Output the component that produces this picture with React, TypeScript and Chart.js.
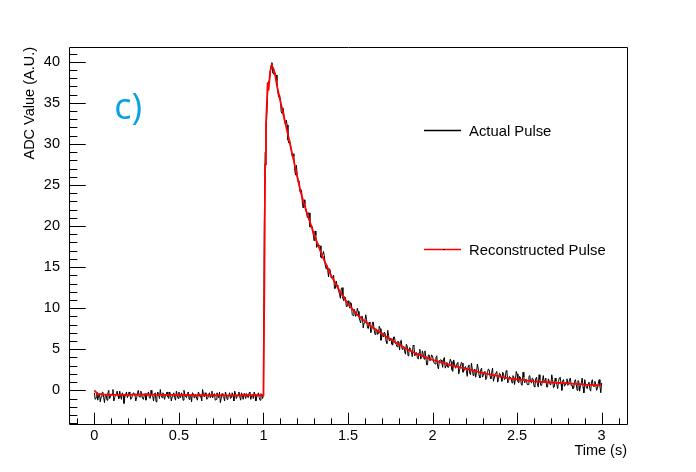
import { useEffect, useRef } from "react";
import { Chart, registerables } from "chart.js";

Chart.register(...registerables);

// ---- data ----
// Actual pulse is sampled every 5 ms; samples on the 10 ms grid (0.00, 0.01, ...)
// and the samples in between (0.005, 0.015, ...) are kept in two lists.
const sampleStep = 0.01;
const actualOnGrid = [
  -0.3, -0.9, -1.2, -0.4, -0.8, -0.2, -1.5, -0.6, -0.3, -1.0,
  -0.5, 0.1, -0.9, -0.4, -0.7, -0.1, -1.1, -0.5, -0.8, -0.2,
  -0.7, -0.4, -1.0, -0.3, -0.6, -0.9, 0.0, -0.8, -0.5, -1.1,
  -0.4, -0.7, -0.2, -1.0, -0.6, -1.3, -0.3, -0.8, -0.5, 0.1,
  -0.9, -0.5, -0.7, -0.2, -1.0, -0.4, -0.8, -0.3, -1.2, -0.6,
  -0.2, -0.9, -0.5, 0.0, -0.8, -0.4, -1.1, -0.6, -0.3, -0.9,
  -0.5, -1.2, -0.4, -0.7, 0.1, -0.8, -0.5, -1.0, -0.3, -0.7,
  -0.9, -0.4, -1.1, -0.6, -0.2, -1.0, -0.7, -1.3, -0.5, -0.8,
  -0.3, -0.9, -0.6, -0.1, -1.0, -0.5, -0.8, -0.3, -1.1, -0.6,
  -0.4, -0.9, -0.2, -0.7, -1.0, -0.5, -0.8, -0.3, -1.2, -0.6,
  -0.5,
  29.0, 33.7, 37.6, 38.6, 39.9, 38.5, 38.5, 37.7, 35.7, 35.4,
  33.7, 33.7, 32.4, 32.3, 30.1, 29.9, 28.5, 28.5, 26.2, 26.1,
  25.5, 24.0, 22.8, 23.2, 22.1, 21.0, 21.6, 19.9, 19.7, 18.2,
  18.9, 17.7, 17.6, 16.2, 16.5, 16.4, 14.8, 14.6, 14.8, 13.7,
  13.7, 12.4, 13.3, 12.6, 11.7, 12.4, 11.2, 11.4, 10.2, 10.9,
  10.0, 10.6, 9.1, 9.7, 9.2, 9.6, 8.5, 9.0, 7.6, 8.5,
  8.6, 7.5, 8.1, 7.4, 8.3, 6.8, 7.4, 6.9, 7.5, 6.5,
  6.5, 6.9, 5.7, 6.7, 6.3, 5.6, 6.5, 5.7, 5.3, 5.9,
  6.0, 5.0, 5.3, 4.4, 5.4, 4.7, 5.0, 4.1, 5.4, 4.4,
  4.0, 4.6, 3.8, 4.8, 3.8, 4.1, 3.1, 4.3, 3.6, 4.2,
  3.3, 4.0, 2.9, 3.6, 3.7, 2.8, 4.0, 3.0, 2.8, 3.3,
  3.5, 2.3, 3.2, 2.8, 3.4, 2.5, 3.4, 2.2, 2.8, 2.4,
  2.9, 2.1, 3.3, 1.8, 2.6, 2.2, 2.7, 1.5, 2.7, 1.8,
  2.3, 1.5, 2.6, 1.7, 2.2, 1.1, 1.9, 2.3, 1.3, 2.0,
  1.1, 2.0, 1.4, 2.3, 1.2, 1.6, 0.9, 1.7, 1.3, 2.0,
  0.9, 1.5, 0.6, 1.6, 1.3, 0.7, 1.7, 1.0, 1.5, 0.5,
  1.4, 0.8, 1.9, 0.6, 1.2, 0.9, 1.5, 0.4, 1.1, 0.8,
  1.3, 0.4, 1.1, 0.2, 1.5, 0.8, 1.2, 0.5, 1.0, 0.6,
  1.3, 0.6, 0.2, 1.1, 0.7, 1.2, -0.1, 0.9, 0.4, 1.3,
  0.3, 0.8, 0.2, 1.0, 0.5, 1.1, 0.0, 0.8, 0.5, 0.9,
];
const actualBetween = [
  -1.1, -0.2, -0.7, -1.4, -0.3, -0.9, -0.5, -1.2, 0.0, -0.8,
  -0.4, -1.3, -0.6, -0.1, -1.0, -0.7, -0.3, -1.6, -0.5, -0.9,
  -0.2, -1.1, -0.6, -0.4, -1.3, -0.3, -0.8, -0.1, -1.0, -0.6,
  -1.2, -0.4, -0.9, 0.0, -0.7, -0.5, -1.4, -0.2, -1.0, -0.6,
  -0.3, -1.1, -0.5, -0.8, -0.2, -1.3, -0.6, -0.9, -0.1, -1.0,
  -0.7, -0.3, -1.2, -0.5, -0.9, -0.2, -0.8, -1.4, -0.4, -0.6,
  -1.0, -0.2, -0.8, -1.3, -0.5, -0.3, -1.1, -0.6, -0.9, -0.1,
  -0.5, -1.2, -0.3, -0.9, -1.5, -0.4, -0.8, -0.2, -1.1, -0.6,
  -1.0, -0.3, -1.3, -0.5, -0.7, -0.2, -1.2, -0.6, -0.4, -1.0,
  -0.8, -0.3, -1.1, -0.5, -0.2, -1.3, -0.6, -0.9, -0.4, -1.0,
  20.0,
  31.5, 36.3, 37.7, 39.6, 38.6, 38.9, 38.4, 36.3, 36.0, 33.9,
  34.4, 32.7, 32.9, 30.5, 30.4, 29.2, 28.8, 26.8, 27.4, 25.4,
  24.3, 24.4, 22.2, 22.7, 21.6, 21.6, 19.9, 20.1, 18.9, 19.4,
  17.4, 17.8, 17.6, 16.1, 16.9, 15.3, 15.2, 13.8, 14.6, 13.7,
  14.0, 12.4, 12.8, 12.1, 11.2, 12.5, 10.9, 11.3, 10.2, 10.5,
  10.7, 9.2, 9.9, 9.0, 10.0, 8.9, 8.2, 9.0, 8.2, 9.2,
  7.6, 8.3, 7.0, 8.3, 7.3, 7.5, 6.8, 7.8, 6.1, 7.0,
  7.1, 6.0, 7.3, 6.0, 6.3, 5.5, 6.5, 5.6, 6.0, 4.9,
  6.1, 5.1, 4.7, 5.6, 4.2, 5.2, 4.7, 5.5, 4.2, 4.6,
  3.8, 5.0, 4.1, 4.4, 4.8, 3.1, 4.3, 3.6, 4.3, 3.6,
  3.2, 4.2, 2.6, 3.7, 3.3, 3.8, 2.7, 3.4, 2.8, 3.8,
  2.5, 3.7, 2.7, 3.3, 2.0, 2.9, 3.3, 2.3, 2.9, 1.7,
  3.1, 1.9, 2.6, 2.2, 1.6, 3.2, 1.8, 2.5, 1.6, 2.2,
  1.3, 2.2, 2.5, 1.4, 2.7, 1.5, 1.9, 1.0, 2.1, 1.6,
  2.2, 1.3, 2.4, 0.9, 1.7, 1.4, 1.8, 0.7, 2.3, 1.1,
  1.7, 0.7, 2.2, 0.9, 1.3, 0.7, 1.8, 0.9, 1.4, 0.4,
  1.6, 0.4, 1.3, 0.6, 1.8, 0.9, 0.4, 1.4, 0.7, 1.9,
  0.3, 1.5, 0.7, 1.1, 1.6, 0.0, 1.3, 0.6, 1.4, 0.8,
  1.5, 0.6, 0.3, 1.3, 0.0, 1.1, 0.6, 1.5, -0.3, 0.8,
  0.2, 1.0, -0.1, 1.3, 0.5, 0.7, 0.2, 1.3, -0.3,
];

const recTimes = [
  0, 0.02, 0.05, 0.1, 0.2, 0.3, 0.4, 0.5, 0.6, 0.7, 0.8, 0.9, 0.995,
  1.0, 1.005, 1.01, 1.015, 1.02, 1.025, 1.03, 1.04, 1.05, 1.06, 1.07, 1.08, 1.09,
  1.1, 1.12, 1.14, 1.16, 1.18, 1.2, 1.22, 1.24, 1.26, 1.28, 1.3, 1.33, 1.36,
  1.4, 1.45, 1.5, 1.55, 1.6, 1.65, 1.7, 1.75, 1.8, 1.85, 1.9, 1.95, 2.0,
  2.1, 2.2, 2.3, 2.4, 2.45, 2.5, 2.6, 2.7, 2.8, 2.9, 3.0,
];
const recValues = [
  0.0, -0.45, -0.5, -0.55, -0.55, -0.5, -0.55, -0.55, -0.6, -0.6, -0.65, -0.6, -0.6,
  -0.6, 12.0, 27.5, 32.5, 34.8, 37.5, 36.5, 38.9, 39.5, 39.1, 38.3, 37.1, 36.1,
  35.2, 33.4, 31.6, 29.7, 27.9, 26.0, 24.2, 22.7, 21.4, 20.2, 18.9, 17.3, 15.8,
  14.0, 12.1, 10.5, 9.3, 8.4, 7.6, 6.9, 6.2, 5.6, 5.0, 4.5, 4.1, 3.7,
  3.1, 2.6, 2.1, 1.7, 1.45, 1.35, 1.1, 0.95, 0.85, 0.7, 0.6,
];

const xTicks = [0, 0.5, 1, 1.5, 2, 2.5, 3];
const yTicks = [0, 5, 10, 15, 20, 25, 30, 35, 40];
const xMinorStep = 0.1;
const yMinorStep = 1;

const seriesLabels = ["Actual Pulse", "Reconstructed Pulse"];
const seriesColors = ["#000000", "#ff0000"];
const panelLabel = "c)";

const FONT = "'Liberation Sans', Arial, Helvetica, sans-serif";

const rootAxesPlugin = {
  id: "rootAxes",
  afterDatasetsDraw(chart: any) {
    const { ctx, chartArea: a, scales } = chart;
    const xs = scales.x;
    const ys = scales.y;
    ctx.save();
    ctx.strokeStyle = "#000";
    ctx.lineWidth = 1;
    ctx.beginPath();
    ctx.rect(Math.round(a.left) + 0.5, Math.round(a.top) + 0.5, Math.round(a.right - a.left), Math.round(a.bottom - a.top));
    ctx.stroke();
    const xMajorLen = (a.bottom - a.top) * 0.03;
    const yMajorLen = (a.right - a.left) * 0.03;
    ctx.beginPath();
    const xStart = Math.ceil(xs.min / xMinorStep);
    const xEnd = Math.floor(xs.max / xMinorStep);
    for (let i = xStart; i <= xEnd; i++) {
      const v = i * xMinorStep;
      const px = Math.round(xs.getPixelForValue(v)) + 0.5;
      const major = xTicks.some((t) => Math.abs(t - v) < 1e-6);
      const len = major ? xMajorLen : xMajorLen / 2;
      ctx.moveTo(px, a.bottom);
      ctx.lineTo(px, a.bottom - len);
    }
    const yStart = Math.ceil(ys.min / yMinorStep);
    const yEnd = Math.floor(ys.max / yMinorStep);
    for (let i = yStart; i <= yEnd; i++) {
      const v = i * yMinorStep;
      const py = Math.round(ys.getPixelForValue(v)) + 0.5;
      const major = yTicks.some((t) => Math.abs(t - v) < 1e-6);
      const len = major ? yMajorLen : yMajorLen / 2;
      ctx.moveTo(a.left, py);
      ctx.lineTo(a.left + len, py);
    }
    ctx.stroke();
    ctx.restore();
  },
  afterDraw(chart: any) {
    const { ctx, chartArea: a } = chart;
    const w = a.right - a.left;
    const h = a.bottom - a.top;
    ctx.save();
    const ds = chart.data.datasets;
    const entries = [
      { ds: ds[0], fy: 0.22 },
      { ds: ds[1], fy: 0.535 },
    ];
    ctx.font = `14.8px ${FONT}`;
    ctx.textBaseline = "middle";
    ctx.textAlign = "left";
    entries.forEach((e) => {
      const y = Math.round(a.top + h * e.fy) + 0.5;
      const x0 = Math.round(a.left + w * 0.637);
      const x1 = Math.round(a.left + w * 0.703);
      ctx.strokeStyle = e.ds.borderColor;
      ctx.lineWidth = 1.4;
      ctx.beginPath();
      ctx.moveTo(x0, y);
      ctx.lineTo(x1, y);
      ctx.stroke();
      if (e.ds.borderColor !== "#000000") {
        ctx.fillStyle = "#000";
        ctx.fillRect(Math.round((x0 + x1) / 2), y - 0.5, 2, 1);
      }
      ctx.fillStyle = "#000";
      ctx.fillText(e.ds.label, a.left + w * 0.717, y + 1);
    });
    ctx.fillStyle = "#0aa0e6";
    ctx.font = `36px 'Open Sans', 'Noto Sans', sans-serif`;
    ctx.textBaseline = "alphabetic";
    ctx.fillText(panelLabel, a.left + w * 0.081, a.top + h * 0.192);
    ctx.restore();
  },
};

export default function App() {
  const ref = useRef<HTMLCanvasElement | null>(null);
  useEffect(() => {
    if (!ref.current) return;
    const font = { family: FONT, size: 14.5 };
    const actualPoints: { x: number; y: number }[] = [];
    actualOnGrid.forEach((v, i) => {
      actualPoints.push({ x: i * sampleStep, y: v });
      if (i < actualBetween.length) {
        actualPoints.push({ x: i * sampleStep + sampleStep / 2, y: actualBetween[i] });
      }
    });
    const chart = new Chart(ref.current, {
      type: "line",
      data: {
        datasets: [
          {
            label: seriesLabels[0],
            data: actualPoints,
            borderColor: seriesColors[0],
            borderWidth: 1,
            pointRadius: 0,
            order: 1,
          },
          {
            label: seriesLabels[1],
            data: recTimes.map((t, i) => ({ x: t, y: recValues[i] })),
            borderColor: seriesColors[1],
            borderWidth: 1.8,
            pointRadius: 0,
            order: 0,
          },
        ],
      },
      options: {
        responsive: false,
        animation: false,
        events: [],
        layout: { padding: { top: 47, right: 69, left: 0, bottom: 0 } },
        plugins: { legend: { display: false }, tooltip: { enabled: false } },
        elements: { line: { tension: 0 } },
        scales: {
          x: {
            type: "linear",
            min: -0.15,
            max: 3.15,
            afterBuildTicks: (s: any) => {
              s.ticks = xTicks.map((v) => ({ value: v }));
            },
            afterFit: (s: any) => {
              s.height = 48;
            },
            grid: { display: false, drawTicks: false },
            border: { display: false },
            ticks: {
              font,
              color: "#000",
              padding: 3,
              maxRotation: 0,
              autoSkip: false,
              callback: (v: any) => String(v),
            },
            title: {
              display: true,
              text: "Time (s)",
              align: "end",
              font: { family: FONT, size: 14.5 },
              color: "#000",
              padding: { top: 0, bottom: 12 },
            },
          },
          y: {
            type: "linear",
            min: -4.1,
            max: 41.8,
            afterBuildTicks: (s: any) => {
              s.ticks = yTicks.map((v) => ({ value: v }));
            },
            afterFit: (s: any) => {
              s.width = 69;
            },
            grid: { display: false, drawTicks: false },
            border: { display: false },
            ticks: {
              font,
              color: "#000",
              padding: 9,
              autoSkip: false,
              callback: (v: any) => String(v),
            },
            title: {
              display: true,
              text: "ADC Value (A.U.)",
              align: "end",
              font: { family: FONT, size: 14.5 },
              color: "#000",
              padding: { top: 21, bottom: 0 },
            },
          },
        },
      },
      plugins: [rootAxesPlugin],
    } as any);
    return () => chart.destroy();
  }, []);
  return (
    <div style={{ position: "fixed", left: 0, top: 0, width: 696, height: 472, background: "#fff" }}>
      <canvas ref={ref} width={696} height={472} style={{ display: "block" }} />
    </div>
  );
}
